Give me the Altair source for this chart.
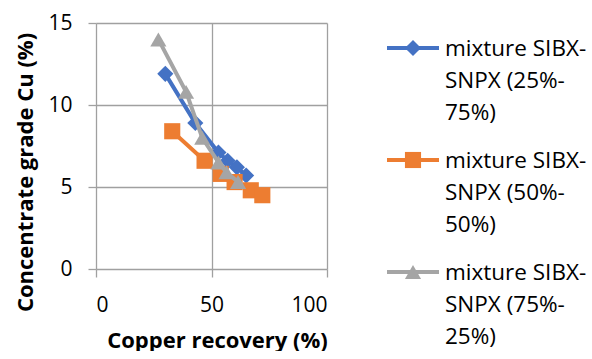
import altair as alt
import pandas as pd

series_names = ["mixture SIBX-SNPX (25%-75%)", "mixture SIBX-SNPX (50%-50%)", "mixture SIBX-SNPX (75%-25%)"]
legend_labels = ["mixture SIBX-\nSNPX (25%-\n75%)", "mixture SIBX-\nSNPX (50%-\n50%)", "mixture SIBX-\nSNPX (75%-\n25%)"]
colors = ["#4472C4", "#ED7D31", "#A5A5A5"]
shapes = ["diamond", "square", "triangle-up"]

recovery_25 = [30, 43, 53, 57, 61, 65]
grade_25 = [11.9, 8.9, 7.1, 6.6, 6.2, 5.7]
recovery_50 = [33, 47, 54, 60, 67, 72]
grade_50 = [8.4, 6.6, 5.8, 5.3, 4.8, 4.5]
recovery_75 = [27, 39, 46, 53, 56.5, 61.5]
grade_75 = [14.0, 10.8, 8.0, 6.5, 5.9, 5.3]

x_ticks = [0, 50, 100]
y_ticks = [0, 5, 10, 15]

FONT = "Open Sans"
GRID = "#A0A0A0"

xs = [recovery_25, recovery_50, recovery_75]
ys = [grade_25, grade_50, grade_75]

color_scale = alt.Scale(domain=series_names, range=colors)
shape_scale = alt.Scale(domain=series_names, range=shapes)

layers = []
for name, xv, yv in zip(series_names, xs, ys):
    df = pd.DataFrame({"recovery": xv, "grade": yv, "series": name, "order": range(len(xv))})
    base = alt.Chart(df).encode(
        x=alt.X("recovery:Q", scale=alt.Scale(domain=[0, 100], nice=False),
                axis=alt.Axis(values=x_ticks, title="Copper recovery (%)", titleX=121)),
        y=alt.Y("grade:Q", scale=alt.Scale(domain=[0, 15], nice=False),
                axis=alt.Axis(values=y_ticks, title="Concentrate grade Cu (%)", titleY=149)),
        color=alt.Color("series:N", scale=color_scale, legend=None),
    )
    layers.append(base.mark_line(strokeWidth=4).encode(order="order:Q"))
    layers.append(base.mark_point(filled=True, opacity=1, size=260).encode(
        shape=alt.Shape("series:N", scale=shape_scale, legend=None)))

plot = alt.layer(*layers).properties(width=231, height=246)

leg_df = pd.DataFrame({"series": series_names, "label": legend_labels, "idx": [0, 1, 2]})
leg_y = alt.Y("idx:Q", scale=alt.Scale(domain=[0, 2], range=[25, 249]), axis=None)
leg_base = alt.Chart(leg_df).encode(y=leg_y)
leg_color = alt.Color("series:N", scale=color_scale, legend=None)
leg_line = leg_base.mark_rule(strokeWidth=4).encode(
    x=alt.value(59), x2=alt.value(111), color=leg_color)
leg_pt = leg_base.mark_point(filled=True, opacity=1, size=260).encode(
    x=alt.value(85), color=leg_color,
    shape=alt.Shape("series:N", scale=shape_scale, legend=None))
leg_txt = leg_base.mark_text(align="left", baseline="alphabetic", dy=8, lineBreak="\n",
                             lineHeight=32, fontSize=22.5, font=FONT, color="black").encode(
    x=alt.value(117), text="label:N")
legend = alt.layer(leg_line, leg_pt, leg_txt).properties(width=240, height=300)

chart = alt.hconcat(plot, legend, spacing=0).properties(
    padding={"left": 14, "top": 12, "right": 0, "bottom": 0}
).configure_view(stroke=None).configure_axis(
    grid=True, gridColor=GRID, gridWidth=1.3, domain=False,
    ticks=True, tickColor=GRID, tickSize=8, tickWidth=1.3,
    labelFont=FONT, labelFontSize=21, labelColor="black",
    titleFont=FONT, titleFontSize=22, titleFontWeight="bold", titleColor="black",
).configure_axisY(labelPadding=16, titlePadding=10).configure_axisX(labelPadding=17, titlePadding=15)

chart.save("out.html", embed_options={"renderer": "svg", "actions": False})
